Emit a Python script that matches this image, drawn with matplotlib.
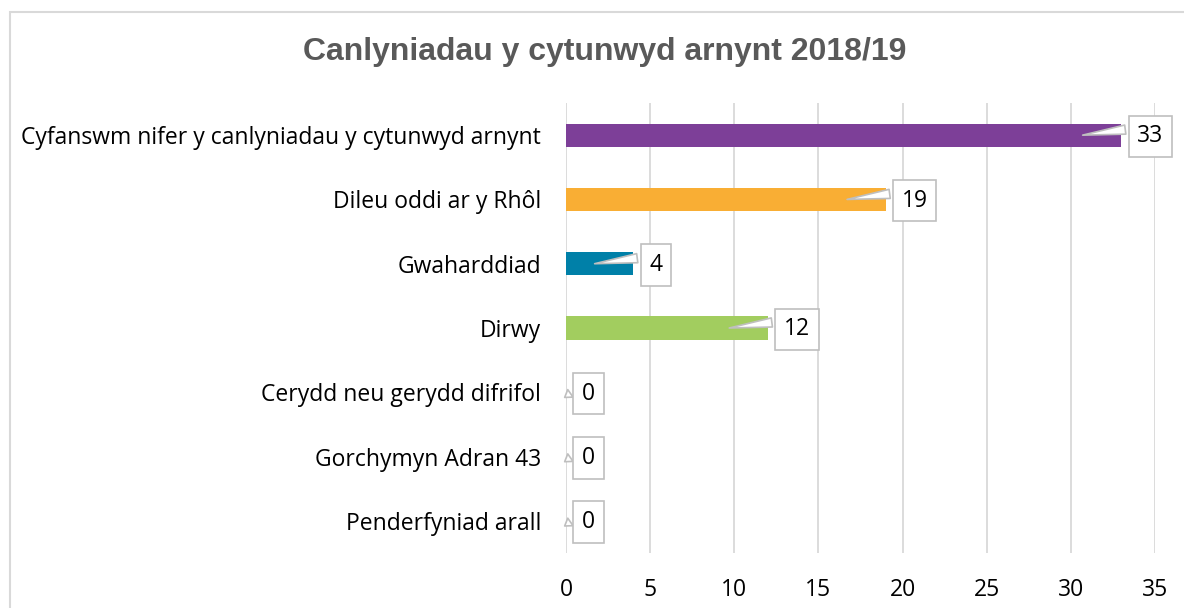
import matplotlib.pyplot as plt
from matplotlib.patches import Rectangle

# data
categories = [
    "Cyfanswm nifer y canlyniadau y cytunwyd arnynt",
    "Dileu oddi ar y Rhôl",
    "Gwaharddiad",
    "Dirwy",
    "Cerydd neu gerydd difrifol",
    "Gorchymyn Adran 43",
    "Penderfyniad arall",
]
values = [33, 19, 4, 12, 0, 0, 0]
colors = ["#7D3F98", "#F9AE34", "#0080A8", "#A2CD5F", "#A5A5A5", "#A5A5A5", "#A5A5A5"]
xticks = [0, 5, 10, 15, 20, 25, 30, 35]
title = "Canlyniadau y cytunwyd arnynt 2018/19"

plt.rcParams["font.family"] = ["Open Sans", "DejaVu Sans"]

fig = plt.figure(figsize=(11.84, 6.08), dpi=100)
ax = fig.add_axes([566 / 1184, 1 - 553 / 608, (1155 - 566) / 1184, 450 / 608])

# outer chart border (runs off the right/bottom edge like the source)
fig.patches.append(Rectangle((10 / 1184, -0.1), 1.2, 1 - 12 / 608 + 0.1,
                             transform=fig.transFigure, fill=False,
                             ec="#D9D9D9", lw=1.5))

ypos = list(range(len(categories)))
ax.barh(ypos, values, height=0.36, color=colors, zorder=2)

# callout labels: box to the right of the bar end, thin wedge pointing back into the bar
for y, v in zip(ypos, values):
    tip = (v - 2.3, y) if v > 0 else (-0.08, y + 0.08)
    ax.annotate(str(v), xy=tip, xytext=(v + 0.95, y + 0.02),
                ha="left", va="center", fontsize=16.5, color="#000000",
                annotation_clip=False,
                bbox=dict(boxstyle="square,pad=0.38", fc="white", ec="#BFBFBF", lw=1.2),
                arrowprops=dict(arrowstyle="wedge,tail_width=0.4,shrink_factor=0.5",
                                fc="white", ec="#BFBFBF", lw=1.2, shrinkB=0,
                                relpos=(0, 0.85)),
                zorder=3)

ax.set_yticks(ypos)
ax.set_yticklabels(categories, fontsize=16.5)
ax.set_ylim(len(categories) - 0.5, -0.5)
ax.set_xlim(0, 35)
ax.set_xticks(xticks)
ax.set_xticklabels([str(t) for t in xticks], fontsize=16.5)
ax.tick_params(length=0, pad=18, axis="y")
ax.tick_params(length=0, pad=18, axis="x")
ax.grid(axis="x", color="#D9D9D9", lw=1.3, zorder=0)
for s in ax.spines.values():
    s.set_visible(False)

fig.text(605 / 1184, 1 - 52 / 608, title, ha="center", va="center",
         fontsize=23, fontweight="bold", color="#595959",
         family=["Liberation Sans", "DejaVu Sans"])

fig.savefig("out.png", dpi=100)
